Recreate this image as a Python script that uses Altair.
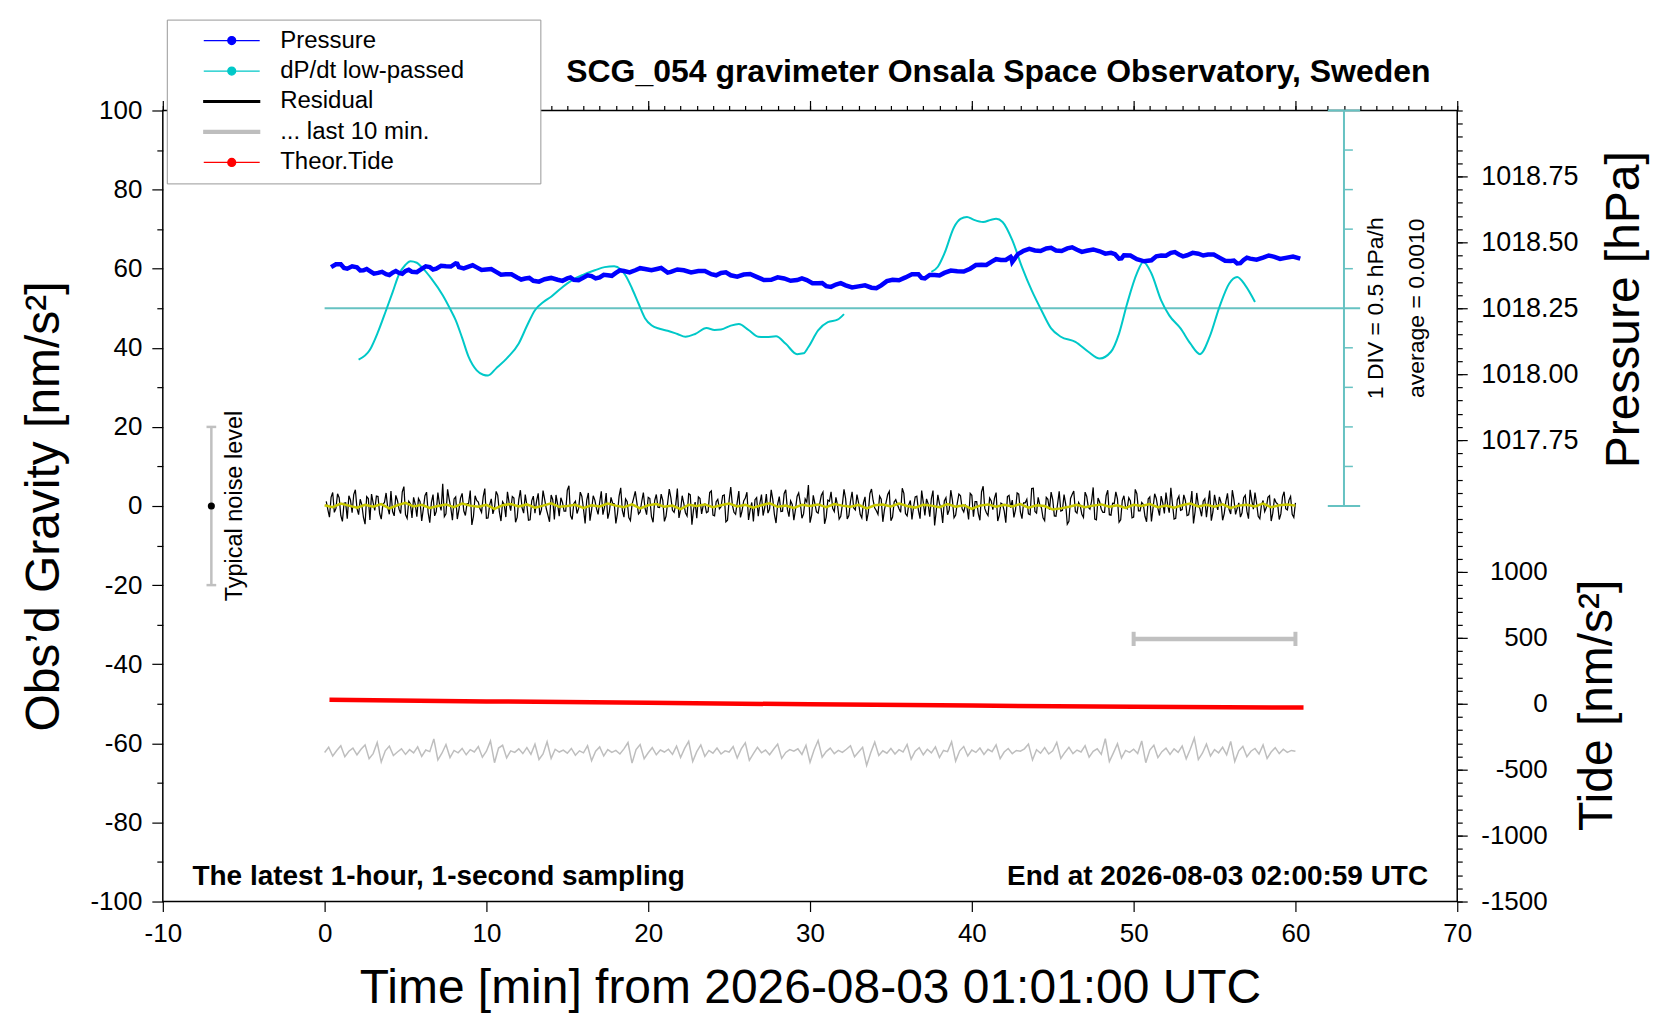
import altair as alt
import pandas as pd

FONT = "Liberation Sans"
W, H = 1296, 792
NBSP = "\u00a0"
ZWJ = "\u200d"

# ---------------- data ----------------
# pressure [hPa] vs time [min]
press_t = [0.4, 1.0, 1.4, 2.0, 2.4, 2.8, 3.3, 3.8, 4.2, 4.6,
           5.0, 5.4, 6.0, 6.5, 6.9, 7.5, 8.1, 8.3, 8.9, 9.4,
           10.0, 10.6, 11.2, 11.9, 12.4, 12.9, 13.6, 14.4, 15.0, 15.4,
           16.0, 16.5, 17.0, 17.5, 18.0, 18.5, 19.2, 19.8, 20.6, 21.0,
           21.4, 22.2, 23.1, 23.9, 24.5, 25.1, 25.9, 26.7, 27.6, 28.4,
           29.2, 29.8, 30.5, 31.0, 31.6, 32.2, 33.0, 33.8, 34.4, 35.1,
           35.9, 36.7, 37.1, 37.7, 38.3, 39.1, 39.9, 40.6, 41.2, 41.8,
           42.4, 42.5, 43.2, 43.9, 44.6, 45.2, 45.9, 46.5, 47.1, 47.9,
           48.6, 49.1, 49.4, 50.2, 51.1, 51.7, 52.3, 52.8, 53.3, 54.0,
           54.6, 55.3, 56.0, 56.4, 56.8, 57.2, 58.0, 58.7, 59.4, 60.3]
press_hpa = [1018.406, 1018.417, 1018.400, 1018.405, 1018.394, 1018.391, 1018.384, 1018.379, 1018.385, 1018.384,
             1018.391, 1018.388, 1018.399, 1018.406, 1018.400, 1018.409, 1018.420, 1018.406, 1018.408, 1018.405,
             1018.397, 1018.388, 1018.379, 1018.367, 1018.363, 1018.354, 1018.360, 1018.358, 1018.363, 1018.358,
             1018.366, 1018.372, 1018.367, 1018.375, 1018.384, 1018.391, 1018.394, 1018.399, 1018.400, 1018.394,
             1018.388, 1018.394, 1018.391, 1018.379, 1018.384, 1018.375, 1018.378, 1018.369, 1018.358, 1018.363,
             1018.357, 1018.357, 1018.345, 1018.334, 1018.340, 1018.337, 1018.333, 1018.328, 1018.337, 1018.358,
             1018.367, 1018.379, 1018.363, 1018.376, 1018.384, 1018.390, 1018.400, 1018.415, 1018.426, 1018.433,
             1018.445, 1018.426, 1018.468, 1018.469, 1018.477, 1018.469, 1018.477, 1018.472, 1018.468, 1018.466,
             1018.460, 1018.438, 1018.451, 1018.436, 1018.432, 1018.450, 1018.460, 1018.454, 1018.451, 1018.457,
             1018.454, 1018.442, 1018.429, 1018.420, 1018.433, 1018.438, 1018.442, 1018.445, 1018.441, 1018.438]
# short-period jitter of the pressure trace, one reading between each pair above
press_jitter = [1018.417, 1018.403, 1018.409, 1018.393, 1018.399, 1018.381, 1018.388, 1018.376, 1018.391, 1018.381,
                1018.396, 1018.387, 1018.409, 1018.397, 1018.411, 1018.408, 1018.419, 1018.401, 1018.413, 1018.395,
                1018.399, 1018.377, 1018.379, 1018.359, 1018.365, 1018.351, 1018.365, 1018.354, 1018.367, 1018.356,
                1018.375, 1018.363, 1018.377, 1018.373, 1018.394, 1018.386, 1018.402, 1018.394, 1018.403, 1018.385,
                1018.397, 1018.386, 1018.391, 1018.375, 1018.386, 1018.370, 1018.380, 1018.357, 1018.367, 1018.354,
                1018.363, 1018.345, 1018.346, 1018.331, 1018.345, 1018.329, 1018.337, 1018.326, 1018.353, 1018.356,
                1018.379, 1018.365, 1018.376, 1018.374, 1018.393, 1018.389, 1018.414, 1018.414, 1018.436, 1018.433,
                1018.440, 1018.455, 1018.475, 1018.467, 1018.479, 1018.467, 1018.481, 1018.464, 1018.473, 1018.457,
                1018.455, 1018.439, 1018.450, 1018.428, 1018.447, 1018.449, 1018.463, 1018.447, 1018.460, 1018.450,
                1018.454, 1018.430, 1018.431, 1018.421, 1018.442, 1018.434, 1018.450, 1018.437, 1018.446]

# dP/dt low-passed [hPa/h], two pieces
dpdt1_t = [2.1, 2.8, 3.3, 3.8, 4.2, 4.6, 5.0, 5.3, 5.7, 6.0,
           6.6, 7.3, 7.8, 8.1, 8.5, 8.9, 9.4, 9.8, 10.1, 10.6,
           11.3, 12.0, 12.5, 13.0, 13.5, 14.0, 14.6, 15.3, 16.0, 16.7,
           17.3, 17.9, 18.3, 18.6, 19.0, 19.4, 19.8, 20.2, 20.7, 21.2,
           21.8, 22.3, 22.9, 23.6, 24.1, 24.5, 25.1, 25.6, 26.2, 26.8,
           27.3, 27.9, 28.5, 29.2, 29.6, 29.9, 30.5, 31.1, 31.7, 32.1]
dpdt1 = [-0.650, -0.525, -0.300, -0.025, 0.200, 0.430, 0.550, 0.595, 0.575, 0.520,
         0.375, 0.165, -0.025, -0.150, -0.375, -0.615, -0.785, -0.840, -0.850, -0.760,
         -0.625, -0.445, -0.225, -0.025, 0.075, 0.145, 0.250, 0.355, 0.425, 0.480,
         0.520, 0.530, 0.490, 0.415, 0.250, 0.060, -0.125, -0.215, -0.260, -0.285,
         -0.325, -0.360, -0.325, -0.250, -0.275, -0.270, -0.220, -0.200, -0.275, -0.360,
         -0.365, -0.355, -0.450, -0.580, -0.570, -0.490, -0.280, -0.175, -0.145, -0.075]
dpdt2_t = [37.5, 37.9, 38.3, 38.9, 39.3, 39.7, 40.1, 40.7, 41.2, 41.5,
           41.9, 42.5, 43.1, 43.7, 44.3, 44.9, 45.5, 46.4, 47.2, 47.9,
           48.6, 49.1, 49.6, 50.2, 50.6, 51.1, 51.7, 52.2, 52.9, 53.5,
           54.1, 54.7, 55.3, 55.9, 56.4, 56.9, 57.5]
dpdt2 = [0.460, 0.525, 0.690, 1.025, 1.130, 1.155, 1.120, 1.090, 1.120, 1.130,
         1.090, 0.860, 0.520, 0.225, -0.025, -0.255, -0.360, -0.425, -0.550, -0.635,
         -0.550, -0.320, 0.060, 0.440, 0.585, 0.440, 0.100, -0.090, -0.255, -0.445,
         -0.580, -0.360, 0.015, 0.310, 0.395, 0.290, 0.080]

# theoretical tide [nm/s2]
tide_t = [0.3, 10, 20, 30, 40, 50, 60.5]
tide = [30, 18, 7, -4, -14, -22, -29]

# residual [nm/s2]: samples at 0.1, 0.3, 0.5 ... min
resid_a = [1.2, -2.8, 3.4, -0.6, 2.1, -3.9, 0.8, 2.6, -1.7, 4.1,
           -2.2, 0.3, -4.6, 1.9, 3.0, -1.1, 2.4, -3.3, 0.9, -0.4,
           3.8, -2.5, 1.4, -1.9, 4.9, -3.1, 0.6, 2.2, -2.7, 1.1,
           -0.8, 3.5, -4.2, 2.9, -1.4, 0.5, 5.6, -2.0, 1.7, -3.6,
           2.3, -0.9, 3.2, -2.4, 0.7, -4.8, 2.6, 1.0, -1.6, 4.4,
           -3.0, 1.8, -0.5, 2.7, -3.8, 0.4, 3.6, -1.2, 2.0, -2.9,
           4.0, -1.8, 0.2, -3.5, 2.5, 1.3, -2.3, 3.9, -0.7, -4.0,
           1.6, 2.8, -2.6, 0.9, -1.3, 5.1, -3.4, 1.2, -0.6, 2.4,
           -4.4, 3.3, -1.0, 1.5, -2.1, 3.7, -0.3, -3.2, 2.2, 0.6,
           -1.9, 4.6, -2.8, 1.1, -3.7, 2.0, 0.8, -1.5, 3.4, -2.2,
           1.9, -4.1, 2.9, -0.4, 1.4, -2.6, 4.3, -1.1, 0.3, -3.0,
           2.6, -1.7, 3.1, -4.7, 1.0, 2.3, -2.0, 0.5, -1.4, 3.8,
           -2.5, 1.7, -0.2, 2.8, -3.6, 4.8, -1.6, 0.9, -2.9, 1.3,
           3.5, -1.0, -3.9, 2.1, 0.7, -2.4, 3.0, -0.8, 1.6, -4.3,
           2.4, -1.3, 4.1, -2.7, 0.4, -0.9, 3.3, -3.1, 1.8, 5.3,
           -2.3, 0.6, -1.8, 2.7, -4.5, 1.5, 3.6, -1.4, 0.2, -2.6,
           4.2, -3.3, 1.2, -0.5, 2.9, -2.1, 0.8, -3.8, 3.1, 1.4,
           -1.2, 2.5, -4.0, 0.9, 3.7, -2.8, 1.6, -0.7, 4.5, -1.9,
           0.3, -3.4, 2.3, -1.1, 3.9, -2.4, 0.6, 1.9, -4.9, 2.8,
           -0.6, 1.3, -2.2, 4.0, -3.0, 0.7, 2.6, -1.5, -0.3, 3.2,
           -2.7, 1.1, -3.6, 5.0, -1.7, 2.0, -0.9, 3.4, -2.3, 0.4,
           -4.2, 2.7, 1.5, -1.0, 3.0, -3.2, 0.8, -2.0, 4.4, -1.4,
           2.2, -0.4, -3.7, 1.7, 3.5, -2.5, 0.5, -1.3, 2.9, -4.6,
           1.9, 3.8, -1.8, 0.1, -2.9, 2.4, -0.8, 4.7, -3.5, 1.0,
           -1.6, 2.6, -2.2, 0.7, 3.6, -4.1, 1.4, -0.2, 2.1, -3.0,
           4.2, -1.2, 0.9, -2.6, 1.8, -3.9, 3.1, -0.6, 2.5, -1.9,
           0.4, 4.6, -3.3, 1.6, -1.1, 2.8, -2.4, 0.2, -4.4, 3.3,
           -0.7, 1.2, -2.8, 3.9, -1.5, 0.6, 2.3, -3.6, 1.1, -0.9,
           4.0, -2.1, 0.8, -1.7, 2.7, -3.2, 1.5, 3.4, -2.6, 0.3,
           -1.4, 2.2, -3.8, 1.9, 0.5, -2.0, 3.6, -1.0, 2.4, -2.9]
# residual samples at 0.2, 0.4, 0.6 ... min
resid_b = [-0.9, 2.2, -1.6, 3.1, -2.4, 0.7, -3.2, 1.5, 2.9, -0.6,
           1.7, -2.9, 2.4, -3.5, 0.8, 2.5, -1.9, 0.4, 3.3, -2.1,
           -1.4, 2.7, -0.8, 3.6, -2.2, 1.2, -3.0, 0.5, 1.9, -3.8,
           2.6, -1.7, 0.9, -2.5, 3.4, -1.1, -2.7, 4.2, -0.5, 1.8,
           -3.3, 2.0, -1.2, 0.6, 3.9, -2.6, 1.4, -0.7, 2.3, -3.1,
           0.3, -2.0, 3.7, -1.5, 1.1, -2.8, 0.9, 2.4, -4.1, 1.6,
           -0.4, 2.9, -3.6, 1.3, -1.8, 3.2, -0.9, 1.7, -2.3, 2.8,
           -3.4, 0.5, 2.1, -1.3, 4.0, -2.4, 0.6, -1.9, 3.5, -0.8,
           1.5, -3.7, 2.6, -0.6, 1.0, -2.2, 3.3, -1.4, 0.7, -4.4,
           2.5, -1.1, 1.8, -2.9, 0.4, 3.7, -2.0, 1.2, -0.5, 2.2,
           -2.7, 1.4, -0.3, 3.0, -3.9, 0.8, 2.1, -1.6, 4.4, -1.0,
           0.6, -2.5, 2.8, -0.9, -3.1, 1.9, 0.2, -1.7, 3.4, -2.3,
           1.1, -0.7, 2.6, -4.0, 1.5, 0.3, -2.1, 3.8, -1.2, 2.0,
           -3.5, 0.9, 1.6, -2.6, 2.9, -0.4, -1.8, 4.1, -2.2, 0.5,
           -1.4, 3.1, -0.8, 1.3, -3.6, 2.4, 0.7, -2.0, 1.0, -4.2,
           2.7, -1.5, 0.6, 3.5, -2.8, 1.2, -0.6, 2.2, -3.3, 0.4,
           1.9, -2.4, 3.6, -1.0, 0.8, -3.0, 2.3, -1.7, 4.3, -0.5,
           -2.1, 1.7, -0.9, 2.9, -3.7, 1.0, 0.4, -1.6, 3.2, -2.5,
           1.4, -0.2, 2.5, -3.2, 0.9, 1.8, -2.7, 3.9, -1.3, 0.6,
           -4.3, 2.1, -1.0, 1.5, -2.3, 3.0, -0.7, 0.2, -3.4, 2.7,
           1.1, -1.9, 3.6, -0.6, -2.4, 1.3, 2.0, -3.8, 0.7, -1.2,
           2.4, -0.4, -2.9, 3.3, -1.5, 0.8, 1.7, -2.2, 4.5, -1.8,
           0.3, -3.0, 2.2, -0.9, 1.6, -2.6, 3.7, -1.1, 0.5, -3.9,
           2.9, -1.4, 0.9, -2.1, 3.5, -0.3, 1.2, -3.3, 2.0, -0.8,
           -1.6, 4.0, -2.3, 0.6, 1.8, -3.5, 2.6, -0.7, 1.3, -2.8,
           3.1, -1.2, 0.4, -4.0, 2.3, -0.5, 1.9, -2.4, 0.8, 3.4,
           -1.7, 0.5, -3.1, 2.5, -0.9, 1.4, -2.2, 3.8, -1.4, 0.2,
           -2.6, 1.8, 0.6, -3.7, 2.8, -1.0, 0.9, -1.9, 3.2, -2.0,
           1.6, -0.6, -2.8, 2.1, -1.3, 4.1, -0.8, 0.7, -3.2, 1.4,
           -0.4, 2.6, -1.8, 0.9, -3.4, 2.3, -0.7, 1.5, -2.1, 0.8]

# smoothed residual (yellow), every 0.5 min from 0
resid_smooth = [0.2, -0.3, 0.6, 0.1, -0.4, 0.3, -0.2, 0.5, -0.6, 0.2,
                0.8, -0.1, 0.3, -0.5, 0.0, 0.4, -0.3, 0.6, 0.1, -0.2,
                0.3, -0.7, 0.2, 0.5, -0.1, 0.4, -0.4, 0.1, 0.7, -0.2,
                0.0, 0.3, -0.5, 0.2, -0.1, 0.6, 0.1, -0.3, 0.4, -0.6,
                0.2, 0.5, -0.2, 0.1, -0.8, 0.3, 0.0, 0.4, -0.3, 0.2,
                0.6, -0.1, 0.3, -0.4, 0.2, 0.7, -0.2, 0.1, -0.5, 0.3,
                0.0, 0.4, -0.3, 0.5, 0.1, -0.2, 0.3, -0.6, 0.2, 0.4,
                -0.1, 0.6, 0.0, -0.4, 0.3, 0.1, -0.3, 0.5, -0.2, 0.2,
                -0.7, 0.1, 0.4, -0.2, 0.3, -0.1, 0.5, -0.4, 0.2, 0.0,
                -0.9, -0.6, -0.2, 0.3, -0.3, 0.1, 0.4, -0.2, 0.2, -0.5,
                0.3, 0.0, 0.5, -0.3, 0.1, -0.4, 0.2, 0.6, -0.1, 0.3,
                -0.2, 0.4, -0.5, 0.1, 0.3, -0.1, 0.6, -0.3, 0.2, 0.4,
                0.1]

# "... last 10 min." trace (grey), every 0.25 min from 0
last10 = [-62.3, -61.0, -63.2, -61.8, -60.6, -63.4, -62.0, -61.2, -62.9, -61.5,
          -60.4, -63.9, -62.6, -59.8, -64.7, -61.9, -60.7, -63.1, -62.2, -61.4,
          -62.8, -61.6, -62.4, -60.9, -63.3, -61.7, -62.1, -58.9, -64.2, -62.5,
          -60.3, -63.6, -61.8, -62.4, -61.3, -62.9, -61.6, -62.2, -60.8, -63.5,
          -62.0, -59.4, -64.9, -61.2, -60.5, -63.7, -61.9, -62.3, -61.4, -62.6,
          -61.1, -62.8, -60.2, -64.1, -62.7, -59.6, -63.8, -61.5, -62.2, -61.7,
          -62.5, -61.3, -63.0, -61.9, -62.4, -60.6, -64.4, -62.0, -60.9, -63.2,
          -61.6, -62.3, -61.8, -62.7, -61.4, -59.8, -65.0, -61.6, -60.3, -63.9,
          -62.4, -61.1, -62.9, -61.7, -62.2, -61.5, -62.8, -60.7, -63.6, -61.3,
          -59.5, -64.6, -62.1, -60.4, -63.3, -61.8, -62.5, -61.2, -62.7, -61.9,
          -62.2, -60.8, -63.7, -61.4, -59.9, -64.3, -62.6, -61.0, -62.4, -61.7,
          -62.9, -61.5, -60.2, -63.8, -62.3, -61.6, -62.0, -61.4, -62.8, -60.5,
          -64.8, -61.7, -59.3, -63.5, -62.1, -61.2, -62.6, -61.8, -62.3, -61.5,
          -60.6, -63.4, -62.2, -61.0, -65.6, -62.4, -59.7, -63.1, -61.9, -62.5,
          -61.3, -62.7, -61.6, -62.2, -60.3, -64.0, -62.0, -61.1, -62.9, -61.5,
          -62.4, -60.9, -63.6, -61.8, -62.1, -59.6, -64.5, -61.9, -60.8, -63.2,
          -61.7, -62.3, -61.2, -62.8, -61.5, -62.1, -60.4, -63.9, -62.2, -61.3,
          -62.6, -61.8, -62.0, -61.4, -60.2, -64.2, -61.6, -62.5, -61.1, -62.7,
          -61.9, -59.8, -63.8, -62.3, -61.0, -62.6, -61.7, -62.2, -60.6, -63.5,
          -62.0, -61.4, -62.8, -58.8, -64.6, -62.4, -60.1, -63.7, -61.8, -62.3,
          -61.5, -62.6, -59.4, -64.9, -61.7, -60.5, -63.6, -62.1, -61.2, -62.8,
          -61.4, -62.3, -60.7, -63.9, -61.5, -58.7, -64.1, -62.5, -60.2, -63.2,
          -61.6, -62.4, -61.0, -62.9, -59.5, -64.6, -61.9, -60.8, -63.4, -62.0,
          -61.3, -62.7, -60.4, -63.8, -62.2, -61.1, -62.6, -61.5, -62.3, -61.8,
          -62.0]

# annotation geometry (data units)
noise_x, noise_lo, noise_hi = -7.0, -20, 20
span_t0, span_t1, span_g = 50, 60, -33.6
div_x, div_lo, div_hi = 63.0, -2.5, 2.5          # hPa/h
div_ticks = [-2.0, -1.5, -1.0, -0.5, 0.5, 1.0, 1.5, 2.0]

legend_names = ["Pressure", "dP/dt low-passed", "Residual", "... last 10 min.", "Theor.Tide"]
legend_colors = ["#0000ff", "#00c8c8", "#000000", "#bebebe", "#ff0000"]
DOT_LINE = "M-2.8,0H2.8M-0.4,0A0.4,0.4 0 1 1 0.4,0A0.4,0.4 0 1 1 -0.4,0Z"
legend_shapes = [DOT_LINE, DOT_LINE, "M-2.8,-0.1H2.8V0.1H-2.8Z",
                 "M-2.8,-0.15H2.8V0.15H-2.8Z", DOT_LINE]

# ---------------- scales ----------------
xs = alt.Scale(domain=[-10, 70], nice=False, zero=False)
gs = alt.Scale(domain=[-100, 100], nice=False, zero=False)
ps = alt.Scale(domain=[1016.0, 1019.0], nice=False, zero=False)
ts = alt.Scale(domain=[-1500, 4500], nice=False, zero=False)
rs = alt.Scale(domain=[-7.5, 2.5], nice=False, zero=False)   # 1 DIV = 0.5 hPa/h


def X(f="t", axis=None):
    return alt.X(f"{f}:Q", scale=xs, axis=axis)


def Y(f="g", scale=gs, axis=None):
    return alt.Y(f"{f}:Q", scale=scale, axis=axis)


res_df = pd.DataFrame({
    "t": [round(0.1 + 0.2 * i, 2) for i in range(len(resid_a))] +
         [round(0.2 + 0.2 * i, 2) for i in range(len(resid_b))],
    "g": resid_a + resid_b,
}).sort_values("t")
smo_df = pd.DataFrame({"t": [0.5 * i for i in range(len(resid_smooth))], "g": resid_smooth})
l10_df = pd.DataFrame({"t": [0.25 * i for i in range(len(last10))], "g": last10})
jit_t = [round((a + b) / 2, 3) for a, b in zip(press_t[:-1], press_t[1:])]
p_df = pd.DataFrame({"t": press_t + jit_t, "p": press_hpa + press_jitter}).sort_values("t")
d_df = pd.DataFrame({"t": dpdt1_t + dpdt2_t, "r": dpdt1 + dpdt2,
                     "seg": [1] * len(dpdt1) + [2] * len(dpdt2)})
tide_df = pd.DataFrame({"t": tide_t, "v": tide})

# ---------------- marks ----------------
residual = alt.Chart(res_df).mark_line(color="black", strokeWidth=1.25).encode(x=X(), y=Y(), order="t:Q")
smooth = alt.Chart(smo_df).mark_line(color="#c8c800", strokeWidth=2.5).encode(x=X(), y=Y())
grey = alt.Chart(l10_df).mark_line(color="#bebebe", strokeWidth=1.5).encode(x=X(), y=Y())
pressure = alt.Chart(p_df).mark_line(color="#0000ff", strokeWidth=4.5).encode(x=X(), y=Y("p", ps), order="t:Q")
dpdt = alt.Chart(d_df).mark_line(color="#00c8c8", strokeWidth=2, interpolate="monotone").encode(
    x=X(), y=Y("r", rs), detail="seg:N")
tides = alt.Chart(tide_df).mark_line(color="#ff0000", strokeWidth=4.5).encode(x=X(), y=Y("v", ts))

# dP/dt scale bar
teal = "#66c2c2"
zero_line = alt.Chart(pd.DataFrame({"t": [0], "t2": [div_x + 1], "r": [0]})).mark_rule(
    color=teal, strokeWidth=2).encode(x=X(), x2="t2:Q", y=Y("r", rs))
div_axis = alt.Chart(pd.DataFrame({"t": [div_x], "r": [div_lo], "r2": [div_hi]})).mark_rule(
    color=teal, strokeWidth=2).encode(x=X(), y=Y("r", rs), y2="r2:Q")
div_caps = alt.Chart(pd.DataFrame({"t": [div_x - 1] * 2, "t2": [div_x + 1] * 2, "r": [div_lo, div_hi]})).mark_rule(
    color=teal, strokeWidth=2).encode(x=X(), x2="t2:Q", y=Y("r", rs))
div_tk = alt.Chart(pd.DataFrame({"t": [div_x] * len(div_ticks), "t2": [div_x + 0.55] * len(div_ticks),
                                 "r": div_ticks})).mark_rule(color=teal, strokeWidth=1.5).encode(
    x=X(), x2="t2:Q", y=Y("r", rs))

# typical noise level bar
noise_bar = alt.Chart(pd.DataFrame({"t": [noise_x], "g": [noise_lo], "g2": [noise_hi]})).mark_rule(
    color="#c0c0c0", strokeWidth=2.5).encode(x=X(), y=Y(), y2="g2:Q")
noise_caps = alt.Chart(pd.DataFrame({"t": [noise_x - 0.3] * 2, "t2": [noise_x + 0.3] * 2,
                                     "g": [noise_lo, noise_hi]})).mark_rule(
    color="#c0c0c0", strokeWidth=2.5).encode(x=X(), x2="t2:Q", y=Y())
noise_dot = alt.Chart(pd.DataFrame({"t": [noise_x], "g": [0]})).mark_point(
    filled=True, color="black", size=50, opacity=1).encode(x=X(), y=Y())

# last-10-min span marker
span = alt.Chart(pd.DataFrame({"t": [span_t0], "t2": [span_t1], "g": [span_g]})).mark_rule(
    color="#c0c0c0", strokeWidth=4.5).encode(x=X(), x2="t2:Q", y=Y())
span_caps = alt.Chart(pd.DataFrame({"t": [span_t0, span_t1], "g": [span_g - 1.8] * 2,
                                    "g2": [span_g + 1.8] * 2})).mark_rule(
    color="#c0c0c0", strokeWidth=4).encode(x=X(), y=Y(), y2="g2:Q")


# texts
def label(t, g, text, **kw):
    return alt.Chart(pd.DataFrame({"t": [t], "g": [g], "s": [text]})).mark_text(
        font=FONT, color="black", **kw).encode(x=X(), y=Y(), text="s:N")


texts = [
    label(68.35, 109.8, "SCG_054 gravimeter Onsala Space Observatory, Sweden",
          fontSize=32, fontWeight="bold", align="right", baseline="middle"),
    label(-8.17, -93.9, "The latest 1-hour, 1-second sampling",
          fontSize=28, fontWeight="bold", align="left", baseline="middle"),
    label(68.2, -93.9, "End at 2026-08-03 02:00:59 UTC",
          fontSize=28, fontWeight="bold", align="right", baseline="middle"),
    label(65.0, 50, "1 DIV = 0.5 hPa/h", fontSize=23, angle=270, align="center", baseline="middle"),
    label(67.5, 50, "average = 0.0010", fontSize=23, angle=270, align="center", baseline="middle"),
    label(-5.56, 0, "Typical noise level", fontSize=23.5, angle=270, align="center", baseline="middle"),
]

# legend (symbols only; the dummy points fall outside the plot and are clipped)
leg = alt.Legend(
    title=None, orient="none", legendX=4, legendY=-91, direction="vertical",
    padding=9, rowPadding=6.5, symbolSize=400, symbolStrokeWidth=1.2,
    symbolOffset=44, labelOffset=36.5, labelFont=FONT, labelFontSize=24,
    labelLimit=800, labelExpr="datum.label + '" + NBSP * 10 + ZWJ + "'",
    strokeColor="#999999", fillColor="white",
)
leg_df = pd.DataFrame({"name": legend_names, "t": [-50] * 5, "g": [0] * 5})
legend_layer = alt.Chart(leg_df).mark_point(clip=True, opacity=1).encode(
    x=X(), y=Y(),
    stroke=alt.Stroke("name:N", scale=alt.Scale(domain=legend_names, range=legend_colors), legend=leg),
    fill=alt.Fill("name:N", scale=alt.Scale(domain=legend_names, range=legend_colors), legend=leg),
    shape=alt.Shape("name:N", scale=alt.Scale(domain=legend_names, range=legend_shapes), legend=leg),
)

# ---------------- axes (carried by invisible points) ----------------
carrier = pd.DataFrame({"t": [0], "g": [0], "p": [1018.0], "v": [0]})


def xaxis(axis):
    return alt.Chart(carrier).mark_point(opacity=0).encode(x=X(axis=axis))


def yaxis(f, scale, axis):
    return alt.Chart(carrier).mark_point(opacity=0).encode(y=Y(f, scale, axis))


ax_bottom = xaxis(alt.Axis(orient="bottom", values=list(range(-10, 71, 10)), tickSize=10, labelPadding=9,
                           labelExpr="'' + datum.value",
                           title="Time [min] from 2026-08-03 01:01:00 UTC",
                           titleX=W / 2, titleY=87, titleBaseline="middle", titleAlign="center"))
ax_top_minor = xaxis(alt.Axis(orient="top", values=list(range(-10, 71)), tickSize=5, labels=False, title=None))
ax_top_major = xaxis(alt.Axis(orient="top", values=list(range(-10, 71, 10)), tickSize=10, labels=False,
                              title=None))
ax_left = yaxis("g", gs, alt.Axis(orient="left", values=list(range(-100, 101, 20)), tickSize=11,
                                  labelPadding=10, labelExpr="'' + datum.value",
                                  title="Obs\u2019d Gravity [nm/s\u00b2]", titleX=-118, titleY=H / 2,
                                  titleAngle=270, titleBaseline="middle", titleAlign="center"))
ax_left_minor = yaxis("g", gs, alt.Axis(orient="left", values=list(range(-90, 100, 20)), tickSize=6,
                                        labels=False, title=None))
ax_press = yaxis("p", ps, alt.Axis(orient="right", values=[1017.75, 1018.0, 1018.25, 1018.5, 1018.75],
                                   tickSize=10, labelPadding=111, labelAlign="right", labelFontSize=27,
                                   labelExpr="format(datum.value, '.2f')",
                                   title="Pressure [hPa]", titleX=167, titleY=199, titleAngle=270,
                                   titleBaseline="middle", titleAlign="center"))
ax_press_minor = yaxis("p", ps, alt.Axis(orient="right",
                                         values=[round(1016.0 + 0.05 * i, 2) for i in range(61)],
                                         tickSize=5, labels=False, title=None))
ax_tide = yaxis("v", ts, alt.Axis(orient="right", values=[-1500, -1000, -500, 0, 500, 1000],
                                  tickSize=10, labelPadding=80, labelAlign="right",
                                  labelExpr="'' + datum.value",
                                  title="Tide [nm/s\u00b2]", titleX=140, titleY=595, titleAngle=270,
                                  titleBaseline="middle", titleAlign="center"))

layers = [
    ax_bottom, ax_top_minor, ax_top_major, ax_left, ax_left_minor, ax_press, ax_press_minor, ax_tide,
    zero_line, div_axis, div_caps, div_tk,
    residual, smooth, grey, tides, dpdt, pressure,
    noise_bar, noise_caps, noise_dot, span, span_caps,
    *texts, legend_layer,
]

chart = alt.layer(*layers).resolve_scale(y="independent").resolve_axis(
    x="independent", y="independent"
).properties(
    width=W, height=H, padding={"left": 13, "top": 10, "right": 4, "bottom": 4}
).configure_view(
    stroke="black", strokeWidth=1.5
).configure_axis(
    labelFont=FONT, titleFont=FONT, labelFontSize=26, titleFontSize=48, titleFontWeight="normal",
    labelColor="black", titleColor="black", tickColor="black", tickWidth=1.2,
    domain=False, grid=False, labelFlush=False, labelOverlap=False
)

chart.save("out.html", embed_options={"renderer": "svg", "actions": False})
